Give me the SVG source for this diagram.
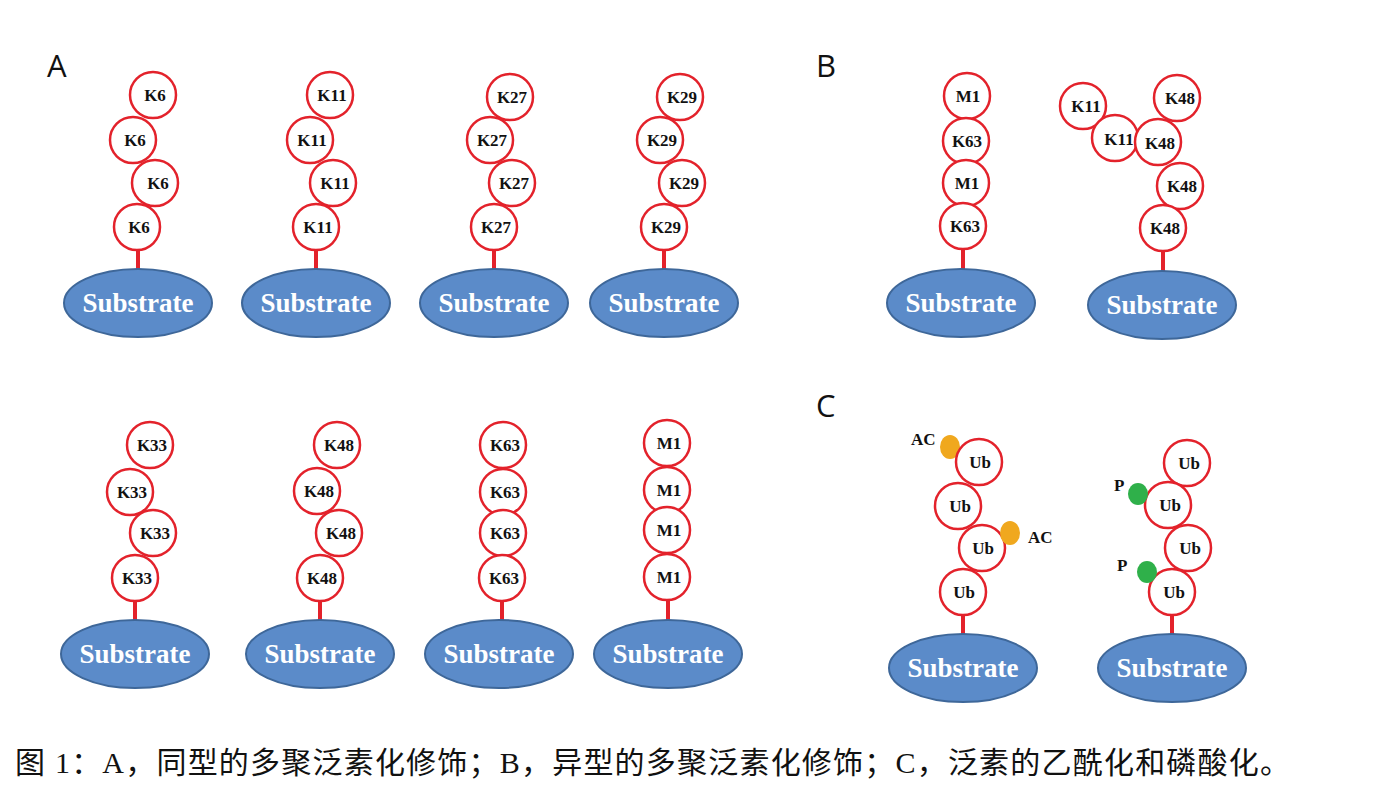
<svg xmlns="http://www.w3.org/2000/svg" width="1380" height="810" viewBox="0 0 1380 810">
<style>
.ub{fill:#fff;stroke:#e3222b;stroke-width:2.5}
.lb{font-family:"Liberation Serif",serif;font-weight:bold;font-size:17px;fill:#111;text-anchor:middle}
.sub{fill:#5b8bc9;stroke:#3e6799;stroke-width:2}
.st{font-family:"Liberation Serif",serif;font-weight:bold;font-size:27px;fill:#fff;text-anchor:middle}
.stem{stroke:#e3222b;stroke-width:4}
.pl{font-family:"Open Sans","Liberation Sans",sans-serif;font-size:31px;fill:#111}
.ac{fill:#f0a81e}
.ph{fill:#2fb04a}
.ml{font-family:"Liberation Serif",serif;font-weight:bold;font-size:17px;fill:#111}
</style>
<rect width="1380" height="810" fill="#fff"/>
<text class="pl" x="47" y="77">A</text>
<text class="pl" x="816" y="77">B</text>
<text class="pl" x="816" y="417">C</text>

<g id="connectors">
<line class="stem" x1="138" y1="250" x2="138" y2="270"/>
<line class="stem" x1="316" y1="250" x2="316" y2="270"/>
<line class="stem" x1="494" y1="250" x2="494" y2="270"/>
<line class="stem" x1="664" y1="250" x2="664" y2="270"/>
<line class="stem" x1="135" y1="600" x2="135" y2="621"/>
<line class="stem" x1="320" y1="600" x2="320" y2="621"/>
<line class="stem" x1="502" y1="600" x2="502" y2="621"/>
<line class="stem" x1="668" y1="600" x2="668" y2="621"/>
<line class="stem" x1="963" y1="250" x2="963" y2="269"/>
<line class="stem" x1="1163" y1="251" x2="1163" y2="271"/>
<line class="stem" x1="963" y1="615" x2="963" y2="634"/>
<line class="stem" x1="1172" y1="615" x2="1172" y2="634"/>
</g>

<g id="A1">
<circle class="ub" cx="153" cy="95" r="23"/><text class="lb" x="155" y="101">K6</text>
<circle class="ub" cx="133" cy="140" r="23"/><text class="lb" x="135" y="146">K6</text>
<circle class="ub" cx="155" cy="183" r="23"/><text class="lb" x="158" y="189">K6</text>
<circle class="ub" cx="137" cy="227" r="23"/><text class="lb" x="139" y="233">K6</text>
<ellipse class="sub" cx="138" cy="303" rx="74" ry="34"/><text class="st" x="138" y="312">Substrate</text>
</g>
<g id="A2">
<circle class="ub" cx="330" cy="95" r="23"/><text class="lb" x="332" y="101">K11</text>
<circle class="ub" cx="310" cy="140" r="23"/><text class="lb" x="312" y="146">K11</text>
<circle class="ub" cx="333" cy="183" r="23"/><text class="lb" x="335" y="189">K11</text>
<circle class="ub" cx="316" cy="227" r="23"/><text class="lb" x="318" y="233">K11</text>
<ellipse class="sub" cx="316" cy="303" rx="74" ry="34"/><text class="st" x="316" y="312">Substrate</text>
</g>
<g id="A3">
<circle class="ub" cx="510" cy="97" r="23"/><text class="lb" x="512" y="103">K27</text>
<circle class="ub" cx="490" cy="140" r="23"/><text class="lb" x="492" y="146">K27</text>
<circle class="ub" cx="512" cy="183" r="23"/><text class="lb" x="514" y="189">K27</text>
<circle class="ub" cx="494" cy="227" r="23"/><text class="lb" x="496" y="233">K27</text>
<ellipse class="sub" cx="494" cy="303" rx="74" ry="34"/><text class="st" x="494" y="312">Substrate</text>
</g>
<g id="A4">
<circle class="ub" cx="680" cy="97" r="23"/><text class="lb" x="682" y="103">K29</text>
<circle class="ub" cx="660" cy="140" r="23"/><text class="lb" x="662" y="146">K29</text>
<circle class="ub" cx="682" cy="183" r="23"/><text class="lb" x="684" y="189">K29</text>
<circle class="ub" cx="664" cy="227" r="23"/><text class="lb" x="666" y="233">K29</text>
<ellipse class="sub" cx="664" cy="303" rx="74" ry="34"/><text class="st" x="664" y="312">Substrate</text>
</g>
<g id="A5">
<circle class="ub" cx="150" cy="445" r="23"/><text class="lb" x="152" y="451">K33</text>
<circle class="ub" cx="130" cy="492" r="23"/><text class="lb" x="132" y="498">K33</text>
<circle class="ub" cx="153" cy="533" r="23"/><text class="lb" x="155" y="539">K33</text>
<circle class="ub" cx="135" cy="578" r="23"/><text class="lb" x="137" y="584">K33</text>
<ellipse class="sub" cx="135" cy="654" rx="74" ry="34"/><text class="st" x="135" y="663">Substrate</text>
</g>
<g id="A6">
<circle class="ub" cx="337" cy="445" r="23"/><text class="lb" x="339" y="451">K48</text>
<circle class="ub" cx="317" cy="491" r="23"/><text class="lb" x="319" y="497">K48</text>
<circle class="ub" cx="339" cy="533" r="23"/><text class="lb" x="341" y="539">K48</text>
<circle class="ub" cx="320" cy="578" r="23"/><text class="lb" x="322" y="584">K48</text>
<ellipse class="sub" cx="320" cy="654" rx="74" ry="34"/><text class="st" x="320" y="663">Substrate</text>
</g>
<g id="A7">
<circle class="ub" cx="503" cy="445" r="23"/><text class="lb" x="505" y="451">K63</text>
<circle class="ub" cx="503" cy="492" r="23"/><text class="lb" x="505" y="498">K63</text>
<circle class="ub" cx="503" cy="533" r="23"/><text class="lb" x="505" y="539">K63</text>
<circle class="ub" cx="502" cy="578" r="23"/><text class="lb" x="504" y="584">K63</text>
<ellipse class="sub" cx="499" cy="654" rx="74" ry="34"/><text class="st" x="499" y="663">Substrate</text>
</g>
<g id="A8">
<circle class="ub" cx="667" cy="443" r="23"/><text class="lb" x="669" y="449">M1</text>
<circle class="ub" cx="667" cy="490" r="23"/><text class="lb" x="669" y="496">M1</text>
<circle class="ub" cx="667" cy="530" r="23"/><text class="lb" x="669" y="536">M1</text>
<circle class="ub" cx="667" cy="577" r="23"/><text class="lb" x="669" y="583">M1</text>
<ellipse class="sub" cx="668" cy="654" rx="74" ry="34"/><text class="st" x="668" y="663">Substrate</text>
</g>

<g id="B1">
<circle class="ub" cx="967" cy="96" r="23"/><text class="lb" x="968" y="102">M1</text>
<circle class="ub" cx="966" cy="141" r="23"/><text class="lb" x="967" y="147">K63</text>
<circle class="ub" cx="966" cy="183" r="23"/><text class="lb" x="967" y="189">M1</text>
<circle class="ub" cx="963" cy="226" r="23"/><text class="lb" x="965" y="232">K63</text>
<ellipse class="sub" cx="961" cy="303" rx="74" ry="34"/><text class="st" x="961" y="312">Substrate</text>
</g>
<g id="B2">
<circle class="ub" cx="1083" cy="106" r="23"/><text class="lb" x="1086" y="112">K11</text>
<circle class="ub" cx="1115" cy="138" r="23"/><text class="lb" x="1119" y="145">K11</text>
<circle class="ub" cx="1177" cy="98" r="23"/><text class="lb" x="1180" y="104">K48</text>
<circle class="ub" cx="1158" cy="142" r="23"/><text class="lb" x="1160" y="149">K48</text>
<circle class="ub" cx="1180" cy="186" r="23"/><text class="lb" x="1182" y="192">K48</text>
<circle class="ub" cx="1163" cy="228" r="23"/><text class="lb" x="1165" y="234">K48</text>
<ellipse class="sub" cx="1162" cy="305" rx="74" ry="34"/><text class="st" x="1162" y="314">Substrate</text>
</g>

<g id="C1">
<ellipse class="ac" cx="950" cy="447" rx="10" ry="12"/>
<text class="ml" x="911" y="445">AC</text>
<circle class="ub" cx="979" cy="462" r="23"/><text class="lb" x="980" y="468">Ub</text>
<circle class="ub" cx="958" cy="506" r="23"/><text class="lb" x="960" y="512">Ub</text>
<circle class="ub" cx="982" cy="548" r="23"/><text class="lb" x="983" y="554">Ub</text>
<ellipse class="ac" cx="1010" cy="533" rx="10" ry="12"/>
<text class="ml" x="1028" y="543">AC</text>
<circle class="ub" cx="963" cy="592" r="23"/><text class="lb" x="964" y="598">Ub</text>
<ellipse class="sub" cx="963" cy="668" rx="74" ry="34"/><text class="st" x="963" y="677">Substrate</text>
</g>
<g id="C2">
<circle class="ub" cx="1187" cy="463" r="23"/><text class="lb" x="1189" y="469">Ub</text>
<circle class="ub" cx="1168" cy="505" r="23"/><text class="lb" x="1170" y="511">Ub</text>
<ellipse class="ph" cx="1138" cy="494" rx="10" ry="11"/>
<text class="ml" x="1114" y="491">P</text>
<circle class="ub" cx="1188" cy="548" r="23"/><text class="lb" x="1190" y="554">Ub</text>
<circle class="ub" cx="1172" cy="592" r="23"/><text class="lb" x="1174" y="598">Ub</text>
<ellipse class="ph" cx="1147" cy="572" rx="10" ry="11"/>
<text class="ml" x="1117" y="571">P</text>
<ellipse class="sub" cx="1172" cy="668" rx="74" ry="34"/><text class="st" x="1172" y="677">Substrate</text>
</g>

<text x="15" y="773" font-family="'Liberation Serif','Noto Sans CJK SC',serif" font-size="30" fill="#111" textLength="1275" lengthAdjust="spacing">图 1：A，同型的多聚泛素化修饰；B，异型的多聚泛素化修饰；C，泛素的乙酰化和磷酸化。</text>
</svg>
